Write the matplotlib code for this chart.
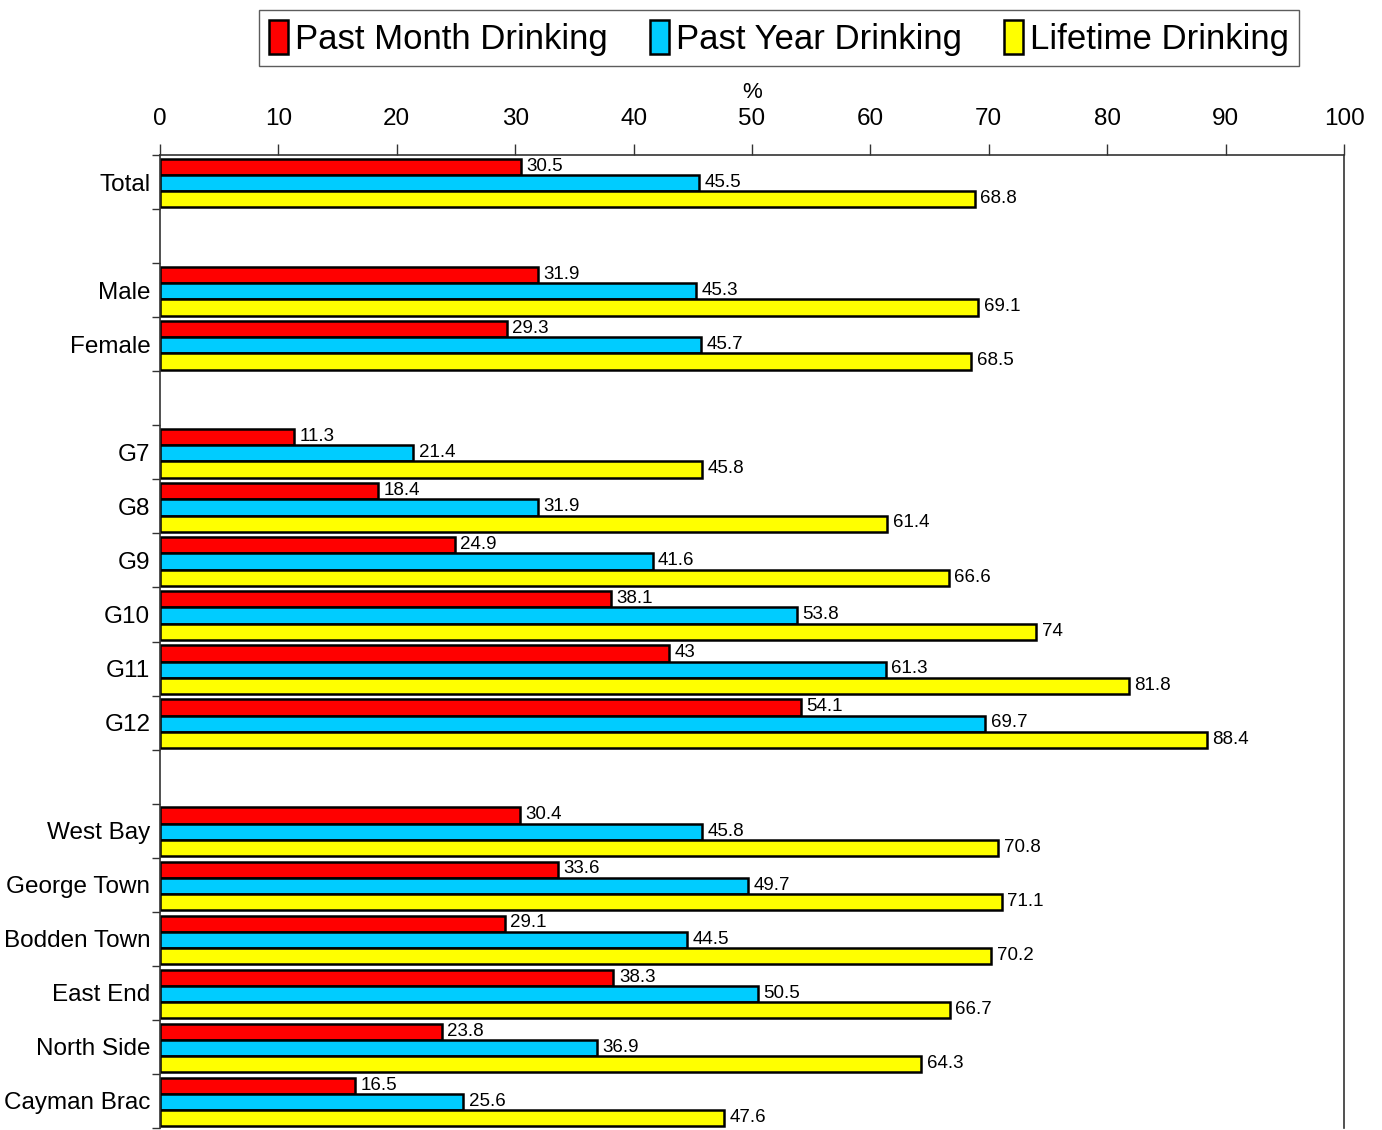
import matplotlib
matplotlib.use("Agg")
import matplotlib.pyplot as plt
import numpy as np

categories = ["Total", "", "Male", "Female", "", "G7", "G8", "G9", "G10", "G11", "G12", "",
              "West Bay", "George Town", "Bodden Town", "East End", "North Side", "Cayman Brac"]
past_month = [30.5, None, 31.9, 29.3, None, 11.3, 18.4, 24.9, 38.1, 43, 54.1, None,
              30.4, 33.6, 29.1, 38.3, 23.8, 16.5]
past_year = [45.5, None, 45.3, 45.7, None, 21.4, 31.9, 41.6, 53.8, 61.3, 69.7, None,
             45.8, 49.7, 44.5, 50.5, 36.9, 25.6]
lifetime = [68.8, None, 69.1, 68.5, None, 45.8, 61.4, 66.6, 74, 81.8, 88.4, None,
            70.8, 71.1, 70.2, 66.7, 64.3, 47.6]
series_names = ["Past Month Drinking", "Past Year Drinking", "Lifetime Drinking"]
colors = ["#FF0000", "#00CCFF", "#FFFF00"]
x_ticks = list(range(0, 101, 10))

plt.rcParams["font.family"] = ["Liberation Sans", "DejaVu Sans"]

fig = plt.figure(figsize=(13.82, 11.30), dpi=100)
ax = fig.add_axes([160 / 1382, 1 - 1128 / 1130, (1344 - 160) / 1382, (1128 - 155) / 1130])

n = len(categories)
y = np.arange(n)
h = 0.3
offsets = [-0.28, 0.02, 0.32]
for vals, off, col, name in zip([past_month, past_year, lifetime], offsets, colors, series_names):
    idx = [i for i, v in enumerate(vals) if v is not None]
    vv = [vals[i] for i in idx]
    yy = [y[i] + off for i in idx]
    ax.barh(yy, vv, height=h, color=col, edgecolor="black", linewidth=1.8, label=name)
    for yi, v in zip(yy, vv):
        lab = f"{v:g}"
        ax.annotate(lab, (v, yi), xytext=(4, 0.5), textcoords="offset points",
                    ha="left", va="center", fontsize=13.5)

ax.set_xlim(0, 100)
ax.set_ylim(n - 0.5, -0.5)
ax.xaxis.tick_top()
ax.xaxis.set_label_position("top")
ax.set_xticks(x_ticks)
ax.set_xticklabels([str(t) for t in x_ticks], fontsize=17.5)
ax.tick_params(axis="x", direction="out", length=8, width=1, pad=10, color="#333333")
ax.set_xlabel("%", fontsize=16, labelpad=7)

ax.set_yticks(np.arange(-0.5, n, 1.0))
ax.set_yticklabels([])
ax.tick_params(axis="y", direction="out", length=6, width=1, color="#333333")
ax.set_yticks(y, minor=True)
ax.set_yticklabels(categories, minor=True, fontsize=17.5)
ax.tick_params(axis="y", which="minor", length=0, pad=7)

for s in ["top", "left", "right"]:
    ax.spines[s].set_color("#333333")
    ax.spines[s].set_linewidth(1.2)
ax.spines["bottom"].set_visible(False)

leg = fig.legend(loc="upper center", bbox_to_anchor=(779 / 1382, 1 - 10 / 1130), ncol=3,
                 fontsize=25, frameon=True, fancybox=False, edgecolor="#333333",
                 handlelength=0.55, handleheight=1.1, handletextpad=0.2, columnspacing=1.2,
                 borderpad=0.3, borderaxespad=0)
leg.get_frame().set_linewidth(1.0)
for p in leg.get_patches():
    p.set_linewidth(1.8)

fig.savefig("out.png", dpi=100)
